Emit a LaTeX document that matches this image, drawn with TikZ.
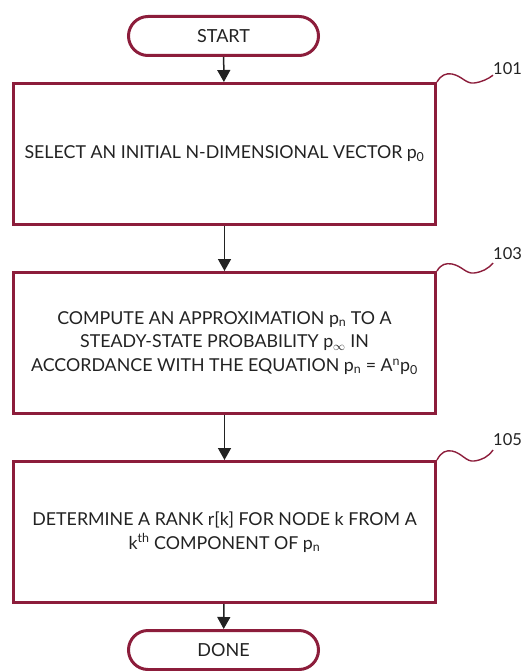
\documentclass[tikz,border=0pt]{standalone}
\usepackage{fontspec}
\setmainfont{Lato}
\usetikzlibrary{arrows.meta}
\definecolor{maroon}{HTML}{8C1D3B}
\definecolor{ink}{HTML}{222222}
\begin{document}
\begin{tikzpicture}[x=1pt,y=-1pt,
  term/.style={draw=maroon, line width=3pt, rounded corners=19.5pt, minimum width=190pt, minimum height=39pt, inner sep=0pt, text=ink, font=\fontsize{18}{20}\selectfont},
  procbox/.style={draw=maroon, line width=3pt, minimum width=422pt, minimum height=141pt, inner sep=0pt, text=ink, align=center, font=\fontsize{17.8}{23.5}\selectfont},
  flow/.style={draw=ink, line width=1.5pt, -{Triangle[width=13pt,length=12pt]}},
  squig/.style={draw=maroon, line width=1.4pt},
  reflabel/.style={anchor=west, inner sep=0pt, text=ink, font=\fontsize{16.5}{18}\selectfont}]
\useasboundingbox (0,0) rectangle (523,671);
\node[term] (start) at (223.5,36) {START};
\node[procbox] (b1) at (224.5,154) {SELECT AN INITIAL N-DIMENSIONAL VECTOR p\textsubscript{0}};
\node[procbox] (b2) at (224.5,343) {COMPUTE AN APPROXIMATION p\textsubscript{n} TO A\\STEADY-STATE PROBABILITY p\textsubscript{$\infty$} IN\\ACCORDANCE WITH THE EQUATION p\textsubscript{n} = A\textsuperscript{n}p\textsubscript{0}};
\node[procbox] (b3) at (224.5,532) {DETERMINE A RANK r[k] FOR NODE k FROM A\\k\textsuperscript{th} COMPONENT OF p\textsubscript{n}};
\node[term] (done) at (223.5,650) {DONE};
\draw[flow] (start) -- (b1);
\draw[flow] (b1) -- (b2);
\draw[flow] (b2) -- (b3);
\draw[flow] (b3) -- (done);
\node[reflabel] (l1) at (493,69) {101};
\node[reflabel] (l2) at (493,254) {103};
\node[reflabel] (l3) at (493,440) {105};
\draw[squig] (b1.north east) .. controls (441,75) and (446,73) .. (452,74) .. controls (462,76) and (466,84) .. (474,83) .. controls (482,82) and (488,79) .. (l1.south west);
\draw[squig] (b2.north east) .. controls (441,264) and (446,263) .. (452,264) .. controls (462,266) and (466,274) .. (474,273) .. controls (482,272) and (488,269) .. ([yshift=-9pt]l2.west);
\draw[squig] (b3.north east) .. controls (441,452) and (446,450) .. (452,451) .. controls (462,453) and (466,462) .. (474,461) .. controls (482,460) and (488,457) .. ([yshift=-10pt]l3.west);
\end{tikzpicture}
\end{document}
